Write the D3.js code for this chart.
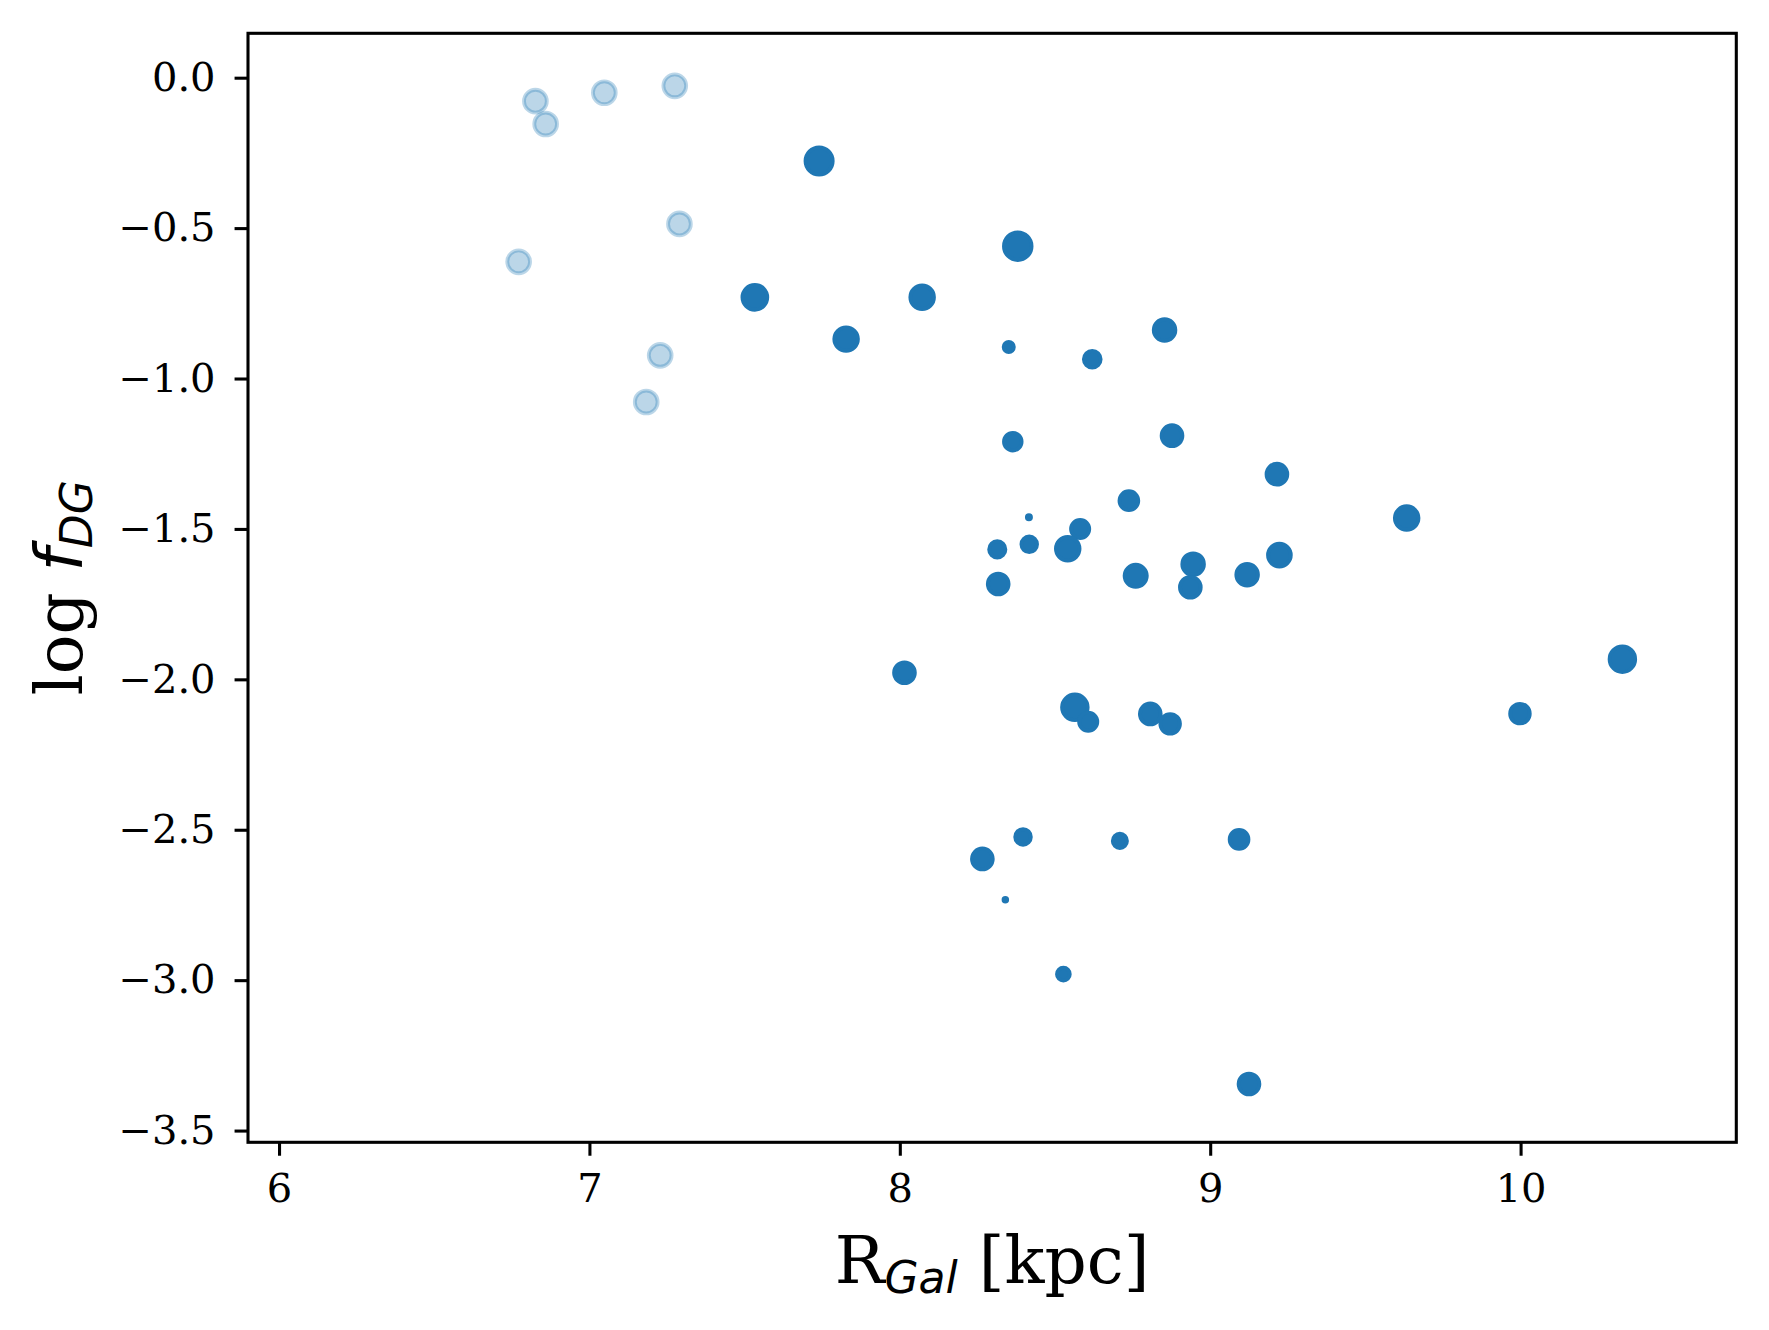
<!DOCTYPE html>
<html>
<head>
<meta charset="utf-8">
<script src="https://cdn.jsdelivr.net/npm/d3@7"></script>
<style>
  html, body { margin: 0; padding: 0; background: #ffffff; }
  svg { display: block; }
</style>
</head>
<body>
<script>
// ---- Data ----
// Faint (alpha) sample: R_Gal [kpc], log f_DG
const faintR = [6.826, 6.859, 7.048, 7.275, 7.290, 6.772, 7.228, 7.183];
const faintLogF = [-0.078, -0.154, -0.050, -0.027, -0.486, -0.612, -0.923, -1.078];
const faintArea = [27.7, 27.7, 27.7, 27.7, 27.7, 27.7, 27.7, 27.7]; // marker area (pt^2)

// Main sample: R_Gal [kpc], log f_DG, marker area (pt^2)
const mainR = [7.740, 8.380, 7.533, 8.072, 7.827, 8.853, 8.351, 8.620, 8.364, 8.877,
               9.215, 8.738, 8.416, 9.633, 8.581, 8.314, 8.417, 8.541, 9.223, 8.760,
               8.945, 9.119, 8.936, 8.317, 8.015, 10.328, 8.564, 8.607, 8.807, 8.871,
               9.998, 8.397, 8.266, 8.709, 9.093, 8.340, 8.527, 9.125];
const mainLogF = [-0.277, -0.560, -0.730, -0.730, -0.869, -0.839, -0.895, -0.936, -1.210, -1.190,
                  -1.318, -1.406, -1.461, -1.464, -1.500, -1.568, -1.551, -1.566, -1.587, -1.656,
                  -1.617, -1.652, -1.694, -1.683, -1.978, -1.933, -2.093, -2.141, -2.115, -2.148,
                  -2.114, -2.524, -2.597, -2.537, -2.532, -2.733, -2.980, -3.345];
const mainArea = [39.4, 40.6, 32.8, 29.7, 29.7, 24.9, 5.5, 15.0, 16.5, 23.0,
                  23.0, 18.8, 0.9, 29.7, 17.6, 14.0, 13.0, 29.7, 27.7, 26.2,
                  24.9, 24.9, 23.0, 23.0, 23.0, 34.9, 34.9, 17.6, 23.0, 20.5,
                  20.5, 13.0, 23.0, 10.7, 18.8, 0.7, 8.7, 23.0];

const xTicks = [6, 7, 8, 9, 10];
const yTicks = [0.0, -0.5, -1.0, -1.5, -2.0, -2.5, -3.0, -3.5];

(function () {
  // ---- Layout ----
  const W = 1769, H = 1330;
  const pL = 248, pR = 1736.3, pT = 33.3, pB = 1142.3;
  const PT = 276.5 / 72; // px per point
  const C0 = "#1f77b4";
  const serif = "'DejaVu Serif', 'Liberation Serif', serif";
  const sansIt = "'DejaVu Sans', 'Noto Sans', sans-serif";

  const svg = d3.select("body").append("svg")
    .attr("width", W).attr("height", H)
    .attr("viewBox", `0 0 ${W} ${H}`);

  svg.append("rect").attr("width", W).attr("height", H).attr("fill", "#fff");

  const x = d3.scaleLinear().domain([5.90, 10.695]).range([pL, pR]);
  const y = d3.scaleLinear().domain([0.1476, -3.539]).range([pT, pB]);
  const rOf = d3.scaleSqrt().domain([0, 100]).range([0, Math.sqrt(100 / Math.PI) * PT]);

  svg.append("clipPath").attr("id", "clip")
    .append("rect").attr("x", pL).attr("y", pT)
    .attr("width", pR - pL).attr("height", pB - pT);

  const pts = svg.append("g").attr("clip-path", "url(#clip)");

  const faint = faintR.map((r, i) => ({ r, f: faintLogF[i], s: faintArea[i] }));
  const main = mainR.map((r, i) => ({ r, f: mainLogF[i], s: mainArea[i] }));

  pts.selectAll("circle.faint").data(faint).enter().append("circle")
    .attr("class", "faint")
    .attr("cx", d => x(d.r)).attr("cy", d => y(d.f))
    .attr("r", d => rOf(d.s))
    .attr("fill", C0).attr("fill-opacity", 0.3)
    .attr("stroke", C0).attr("stroke-opacity", 0.3)
    .attr("stroke-width", PT);

  pts.selectAll("circle.main").data(main).enter().append("circle")
    .attr("class", "main")
    .attr("cx", d => x(d.r)).attr("cy", d => y(d.f))
    .attr("r", d => rOf(d.s))
    .attr("fill", C0)
    .attr("stroke", C0)
    .attr("stroke-width", PT);

  // axes
  const tickLen = 3.5 * PT;
  const xAxis = d3.axisBottom(x).tickValues(xTicks).tickFormat(d3.format("d"))
    .tickSize(tickLen).tickSizeOuter(0).tickPadding(18);
  const yAxis = d3.axisLeft(y).tickValues(yTicks).tickFormat(d3.format(".1f"))
    .tickSize(tickLen).tickSizeOuter(0).tickPadding(19);

  const gx = svg.append("g").attr("transform", `translate(0,${pB})`).call(xAxis);
  const gy = svg.append("g").attr("transform", `translate(${pL},0)`).call(yAxis);
  [gx, gy].forEach(g => {
    g.select(".domain").remove();
    g.selectAll(".tick line").attr("stroke", "#000").attr("stroke-width", 0.8 * PT);
    g.selectAll(".tick text").attr("fill", "#000")
      .style("font-family", serif).style("font-size", "40px");
  });

  // frame
  svg.append("rect").attr("x", pL).attr("y", pT)
    .attr("width", pR - pL).attr("height", pB - pT)
    .attr("fill", "none").attr("stroke", "#000").attr("stroke-width", 0.8 * PT);

  // x label
  const xl = svg.append("text")
    .attr("x", (pL + pR) / 2).attr("y", 1283)
    .attr("text-anchor", "middle")
    .style("font-family", serif).style("font-size", "66px").attr("fill", "#000");
  xl.append("tspan").text("R");
  xl.append("tspan").attr("dy", 10).style("font-family", sansIt).style("font-style", "italic")
    .style("font-size", "44px").text("Gal");
  xl.append("tspan").attr("dy", -10).text("\u00a0[kpc]");

  // y label
  const yl = svg.append("text")
    .attr("transform", `translate(82,${(pT + pB) / 2}) rotate(-90)`)
    .attr("text-anchor", "middle")
    .style("font-family", serif).style("font-size", "66px").attr("fill", "#000");
  yl.append("tspan").text("log\u00a0");
  yl.append("tspan").style("font-family", sansIt).style("font-style", "italic").text("f");
  yl.append("tspan").attr("dy", 10).style("font-family", sansIt).style("font-style", "italic")
    .style("font-size", "44px").text("DG");
})();
</script>
</body>
</html>
